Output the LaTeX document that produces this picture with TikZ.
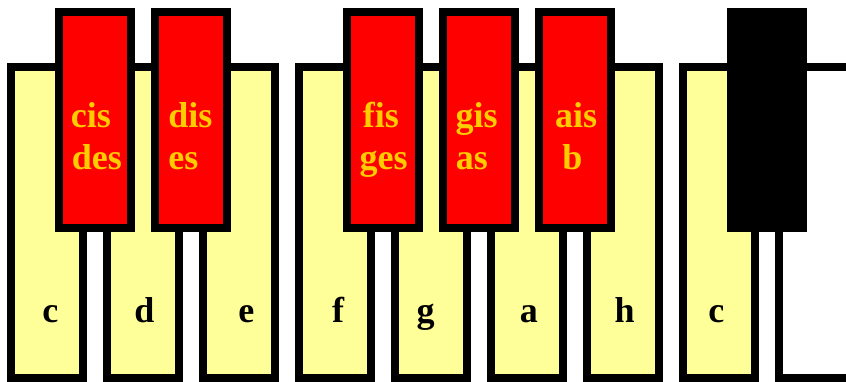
\documentclass[tikz,border=0pt]{standalone}
\usepackage{fontspec}
\setmainfont{Liberation Serif}
\definecolor{keyyellow}{HTML}{FFFF99}
\definecolor{keyred}{HTML}{FF0000}
\definecolor{labelgold}{HTML}{FFCC00}
\begin{document}
\begin{tikzpicture}[x=1pt,y=-1pt,
  whitekey/.style={draw=black,line width=8pt,fill=keyyellow,minimum width=72pt,minimum height=311.5pt,inner sep=0pt,outer sep=0pt,anchor=north west},
  blackkey/.style={draw=black,line width=8pt,fill=keyred,minimum width=72pt,minimum height=216pt,inner sep=0pt,outer sep=0pt,anchor=north west},
  wlabel/.style={inner sep=0pt,outer sep=0pt,anchor=base west,font=\fontsize{36}{40}\selectfont\bfseries,text=black},
  blabel/.style={inner sep=0pt,outer sep=0pt,anchor=base west,font=\fontsize{36}{40}\selectfont\bfseries,text=labelgold}]
\useasboundingbox (0,0) rectangle (846,381);
\clip (0,0) rectangle (846,381);
% white keys
\node[whitekey] (wc) at (11,66.5) {};
\node[whitekey] (wd) at (107,66.5) {};
\node[whitekey] (we) at (203,66.5) {};
\node[whitekey] (wf) at (299,66.5) {};
\node[whitekey] (wg) at (395,66.5) {};
\node[whitekey] (wa) at (491,66.5) {};
\node[whitekey] (wh) at (587,66.5) {};
\node[whitekey] (wc2) at (683,66.5) {};
\node[whitekey,fill=white] (wd2) at (779,66.5) {};
% white key labels
\node[wlabel] (lc) at (42.4,322) {c};
\node[wlabel] (ld) at (134.4,322) {d};
\node[wlabel] (le) at (238.4,322) {e};
\node[wlabel] (lf) at (332.2,322) {f};
\node[wlabel] (lg) at (416.7,322) {g};
\node[wlabel] (la) at (519.8,322) {a};
\node[wlabel] (lh) at (614.7,322) {h};
\node[wlabel] (lc2) at (708.4,322) {c};
% black keys
\node[blackkey] (bcis) at (59,12) {};
\node[blackkey] (bdis) at (155,12) {};
\node[blackkey] (bfis) at (347,12) {};
\node[blackkey] (bgis) at (443,12) {};
\node[blackkey] (bais) at (539,12) {};
\node[blackkey,fill=black] (bcis2) at (731,12) {};
% black key labels
\node[blabel] (cisA) at (70.8,127) {cis};
\node[blabel] (cisB) at (71.8,169) {des};
\node[blabel] (disA) at (168.4,127) {dis};
\node[blabel] (disB) at (168.4,169) {es};
\node[blabel] (fisA) at (362.8,127) {fis};
\node[blabel] (fisB) at (359.7,169) {ges};
\node[blabel] (gisA) at (455.7,127) {gis};
\node[blabel] (gisB) at (455.8,169) {as};
\node[blabel] (aisA) at (555.1,127) {ais};
\node[blabel] (aisB) at (562.3,169) {b};
\end{tikzpicture}
\end{document}
